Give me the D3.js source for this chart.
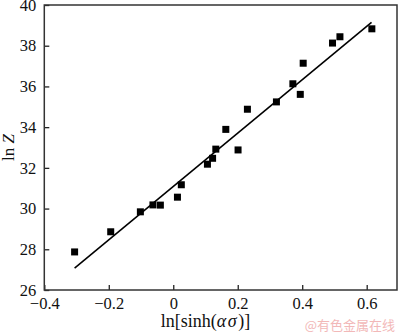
<!DOCTYPE html>
<html><head><meta charset="utf-8">
<script src="https://cdn.jsdelivr.net/npm/d3@7"></script>
<style>body{margin:0;background:#fff}</style>
</head><body>
<svg id="c" width="400" height="334"></svg>
<script>
const xVals = [-0.306,-0.194,-0.102,-0.063,-0.040,0.013,0.025,0.106,0.122,0.132,0.201,0.163,0.230,0.320,0.371,0.394,0.403,0.494,0.517,0.616];
const yVals = [27.87,28.86,29.84,30.18,30.17,30.56,31.17,32.18,32.47,32.92,32.88,33.89,34.88,35.24,36.13,35.61,37.14,38.13,38.44,38.83];
const fitX = [-0.306, 0.615];
const fitY = [27.07, 39.15];
const xTicks = [-0.4,-0.2,0,0.2,0.4,0.6];
const yTicks = [26,28,30,32,34,36,38,40];

const svg = d3.select("#c");
const m = {l:44.3, t:5, r:397, b:290};
const x = d3.scaleLinear().domain([-0.4,0.694]).range([m.l,m.r]);
const y = d3.scaleLinear().domain([26,40]).range([m.b,m.t]);
const font = "Liberation Serif, Times New Roman, serif";
const fmt = d => d===0 ? "0" : (d<0 ? "\u2212"+Math.abs(d) : String(d));

const gx = svg.append("g").attr("transform",`translate(0,${m.b})`)
  .call(d3.axisBottom(x).tickValues(xTicks).tickSizeInner(-5).tickSizeOuter(0).tickPadding(7).tickFormat(fmt));
gx.select(".domain").remove();
gx.selectAll("text").attr("font-family",font).attr("font-size",16.5).attr("fill","#111");
gx.selectAll("line").attr("stroke","#222").attr("stroke-width",1.3);

const gy = svg.append("g").attr("transform",`translate(${m.l},0)`)
  .call(d3.axisLeft(y).tickValues(yTicks).tickSizeInner(-5).tickSizeOuter(0).tickPadding(8).tickFormat(fmt));
gy.select(".domain").remove();
gy.selectAll("text").attr("font-family",font).attr("font-size",16.5).attr("fill","#111");
gy.selectAll("line").attr("stroke","#222").attr("stroke-width",1.3);

svg.append("rect").attr("x",m.l).attr("y",m.t).attr("width",m.r-m.l).attr("height",m.b-m.t)
  .attr("fill","none").attr("stroke","#333").attr("stroke-width",1.5);

svg.append("line").attr("x1",x(fitX[0])).attr("y1",y(fitY[0])).attr("x2",x(fitX[1])).attr("y2",y(fitY[1]))
  .attr("stroke","#000").attr("stroke-width",1.6);

const s = 7;
svg.append("g").selectAll("rect").data(xVals.map((v,i)=>[v,yVals[i]])).join("rect")
  .attr("x",d=>x(d[0])-s/2).attr("y",d=>y(d[1])-s/2).attr("width",s).attr("height",s).attr("fill","#000");

const xl = svg.append("text").attr("x",205.5).attr("y",326.5).attr("text-anchor","middle")
  .attr("font-family",font).attr("font-size",18).attr("fill","#111");
xl.append("tspan").text("ln[sinh(");
xl.append("tspan").attr("font-style","italic").attr("letter-spacing","1.5").text("ασ");
xl.append("tspan").text(")]");

const yl = svg.append("text").attr("transform",`translate(14,${(m.t+m.b)/2}) rotate(-90)`).attr("text-anchor","middle")
  .attr("font-family",font).attr("font-size",17).attr("fill","#111");
yl.append("tspan").text("ln ");
yl.append("tspan").attr("font-style","italic").text("Z");

svg.append("text").attr("x",395).attr("y",330).attr("text-anchor","end")
  .attr("font-family","Noto Sans CJK SC, sans-serif").attr("font-size",13).attr("fill","#f2b8b8").text("@有色金属在线");
</script>
</body></html>
